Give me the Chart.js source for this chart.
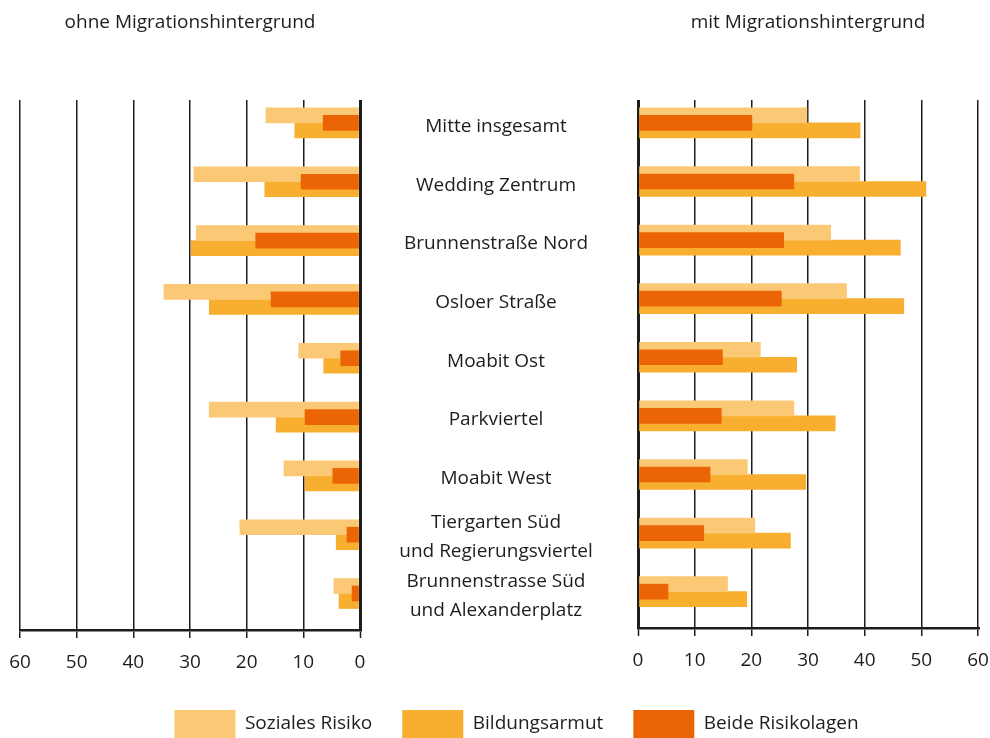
<!DOCTYPE html>
<html lang="de">
<head>
<meta charset="utf-8">
<title>Soziales Risiko und Bildungsarmut in Mitte</title>
<script src="https://cdn.jsdelivr.net/npm/chart.js@4.4.1/dist/chart.umd.min.js"></script>
<style>
    html, body { margin: 0; padding: 0; background: #fff; }
    #wrap { position: relative; width: 990px; height: 738px; }
    #wrap canvas { position: absolute; top: 0; left: 0; }
</style>
</head>
<body>
<div id="wrap">
    <canvas id="chart-right" width="990" height="738"></canvas>
    <canvas id="chart-left" width="380" height="738"></canvas>
</div>
<script>
// Daten
const categories = [
    'Mitte insgesamt',
    'Wedding Zentrum',
    'Brunnenstraße Nord',
    'Osloer Straße',
    'Moabit Ost',
    'Parkviertel',
    'Moabit West',
    ['Tiergarten Süd', 'und Regierungsviertel'],
    ['Brunnenstrasse Süd', 'und Alexanderplatz']
];
const seriesNames = ['Soziales Risiko', 'Bildungsarmut', 'Beide Risikolagen'];
const panelTitles = ['ohne Migrationshintergrund', 'mit Migrationshintergrund'];

// ohne Migrationshintergrund (%)
const ohneSozial  = [16.6, 29.3, 28.9, 34.6, 10.8, 26.6, 13.4, 21.2, 4.6];
const ohneBildung = [11.5, 16.8, 29.8, 26.6, 6.4, 14.8, 9.7, 4.2, 3.7];
const ohneBeide   = [6.5, 10.4, 18.4, 15.7, 3.4, 9.7, 4.8, 2.3, 1.4];

// mit Migrationshintergrund (%)
const mitSozial  = [29.8, 39.1, 34.0, 36.8, 21.6, 27.5, 19.3, 20.6, 15.8];
const mitBildung = [39.2, 50.8, 46.3, 46.9, 28.0, 34.8, 29.6, 26.9, 19.2];
const mitBeide   = [20.1, 27.5, 25.7, 25.3, 14.9, 14.7, 12.7, 11.6, 5.3];

const xTicks = [0, 10, 20, 30, 40, 50, 60];

// Stil
const FONT = '"Open Sans"';
const FONT_SIZE = 19;
const TEXT = '#1d1d1b';
const GRID = '#1d1d1b';
const COLORS = ['#fbc975', '#f8ae2e', '#eb6506'];

const rowIndex = categories.map((_, i) => i);

function makeDatasets(sozial, bildung, beide) {
    return [
        { label: seriesNames[0], data: sozial, backgroundColor: COLORS[0], grouped: true, order: 2 },
        { label: seriesNames[1], data: bildung, backgroundColor: COLORS[1], grouped: true, order: 2 },
        { label: seriesNames[2], data: beide, backgroundColor: COLORS[2], grouped: false, order: 1 }
    ].map(ds => ({ ...ds, barThickness: 15, borderWidth: 0, xAxisID: 'x', yAxisID: 'y' }));
}

function valueScale(reverse) {
    return {
        type: 'linear',
        position: 'bottom',
        reverse: reverse,
        min: xTicks[0],
        max: xTicks[xTicks.length - 1],
        z: 1,
        afterBuildTicks: (scale) => { scale.ticks = xTicks.map(v => ({ value: v })); },
        afterFit: (scale) => {
            // feste Höhe, kein automatischer Rand für die äußeren Ticklabels
            scale.height = 52;
            scale.paddingLeft = 0;
            scale.paddingRight = 0;
        },
        grid: {
            color: GRID,
            lineWidth: (ctx) => (ctx.tick && ctx.tick.value === 0 ? 3 : 1.5),
            tickWidth: 1.5,
            tickColor: GRID,
            tickLength: 8
        },
        border: { display: true, color: GRID, width: 2.5 },
        ticks: {
            color: TEXT,
            padding: 13,
            font: { family: FONT, size: FONT_SIZE }
        }
    };
}

function titleScale(text) {
    return {
        type: 'linear',
        position: 'top',
        afterFit: (scale) => {
            scale.height = 100;
            scale.paddingLeft = 0;
            scale.paddingRight = 0;
        },
        ticks: { display: false },
        grid: { display: false, drawTicks: false },
        border: { display: false },
        title: {
            display: true,
            text: text,
            color: TEXT,
            padding: { top: 11, bottom: 0 },
            font: { family: FONT, size: FONT_SIZE }
        }
    };
}

function rowScale(show) {
    return {
        type: 'linear',
        display: show,
        reverse: true,
        offset: false,
        min: -0.39,
        max: 8.62,
        afterBuildTicks: (scale) => { scale.ticks = rowIndex.map(v => ({ value: v })); },
        grid: { display: false, drawTicks: false, offset: false },
        border: { display: false }
    };
}

// Kategorienamen mittig zwischen den beiden Panels
const labelFont = { family: FONT, size: FONT_SIZE, lineHeight: 1.53 };
const measureCtx = document.createElement('canvas').getContext('2d');
measureCtx.font = `${FONT_SIZE}px ${FONT}`;
const widestLabel = Math.max(...categories.flat().map(t => measureCtx.measureText(t).width));

const yRight = rowScale(true);
yRight.afterFit = (scale) => { scale.width = 583; };
yRight.ticks = {
    autoSkip: false,
    crossAlign: 'center',
    padding: Math.max(0, 638 - 496 - widestLabel / 2),
    labelOffset: 4,
    color: TEXT,
    font: labelFont,
    callback: (v) => categories[v]
};

new Chart(document.getElementById('chart-left'), {
    type: 'bar',
    data: { labels: rowIndex, datasets: makeDatasets(ohneSozial, ohneBildung, ohneBeide) },
    options: {
        indexAxis: 'y',
        responsive: false,
        animation: false,
        layout: { autoPadding: false, padding: { left: 20, right: 20, top: 0, bottom: 56 } },
        scales: {
            x: valueScale(true),
            x2: titleScale(panelTitles[0]),
            y: rowScale(false)
        },
        plugins: { legend: { display: false }, tooltip: { enabled: false } }
    }
});

new Chart(document.getElementById('chart-right'), {
    type: 'bar',
    data: { labels: rowIndex, datasets: makeDatasets(mitSozial, mitBildung, mitBeide) },
    options: {
        indexAxis: 'y',
        responsive: false,
        animation: false,
        layout: { autoPadding: false, padding: { left: 55, right: 12, top: 0, bottom: -10 } },
        scales: {
            x: valueScale(false),
            x2: titleScale(panelTitles[1]),
            y: yRight
        },
        plugins: {
            tooltip: { enabled: false },
            legend: {
                position: 'bottom',
                labels: {
                    boxWidth: 61,
                    boxHeight: 28,
                    padding: 30,
                    color: TEXT,
                    font: { family: FONT, size: FONT_SIZE },
                    sort: (a, b) => a.datasetIndex - b.datasetIndex
                }
            }
        }
    }
});
</script>
</body>
</html>
